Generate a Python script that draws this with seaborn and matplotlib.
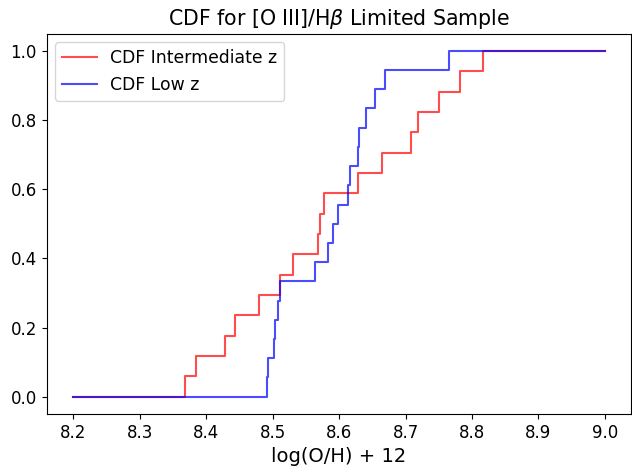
import numpy as np
import pandas as pd
import matplotlib
matplotlib.use("Agg")
import matplotlib.pyplot as plt
import seaborn as sns

# Sorted sample values (log(O/H)+12)
intermediate_z = [8.368, 8.385, 8.428, 8.443, 8.479, 8.511, 8.530, 8.569, 8.571,
                  8.578, 8.629, 8.665, 8.709, 8.719, 8.751, 8.782, 8.816]
low_z = [8.491, 8.4925, 8.5025, 8.504, 8.5075, 8.5115, 8.5635, 8.584, 8.5915,
         8.599, 8.614, 8.616, 8.629, 8.630, 8.641, 8.6535, 8.6685, 8.766]
x_start, x_end = 8.2, 9.0


def cdf_steps(vals):
    vals = np.sort(np.asarray(vals))
    n = len(vals)
    xs = np.concatenate([[x_start], vals, [x_end]])
    ys = np.concatenate([[0.0], np.arange(1, n + 1) / n, [1.0]])
    return xs, ys


fig = plt.figure(figsize=(6.32, 4.66), dpi=100)
ax = fig.add_axes([0.0737, 0.1116, 0.9255, 0.8164])

xi, yi = cdf_steps(intermediate_z)
xl, yl = cdf_steps(low_z)
sns.lineplot(x=xi, y=yi, ax=ax, drawstyle="steps-post", estimator=None, sort=False,
             color="red", alpha=0.7, linewidth=1.5, label="CDF Intermediate z")
sns.lineplot(x=xl, y=yl, ax=ax, drawstyle="steps-post", estimator=None, sort=False,
             color="blue", alpha=0.7, linewidth=1.5, label="CDF Low z")

ax.set_title(r"CDF for [O III]/H$\beta$ Limited Sample", fontsize=14.8)
ax.set_xlabel("log(O/H) + 12", fontsize=14)
ax.set_ylabel("")
ax.tick_params(labelsize=12)
ax.set_xticks(np.arange(8.2, 9.01, 0.1))
ax.legend(loc="upper left", fontsize=12.4)

fig.savefig("out.png", dpi=100)
